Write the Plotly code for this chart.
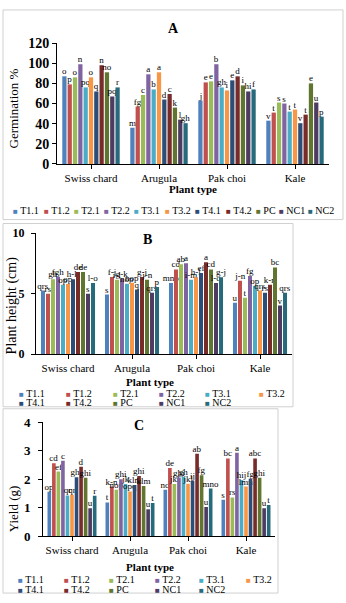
import plotly.graph_objects as go

# ---------------- data ----------------
categories = ["Swiss chard", "Arugula", "Pak choi", "Kale"]
series = ["T1.1", "T1.2", "T2.1", "T2.2", "T3.1", "T3.2", "T4.1", "T4.2", "PC", "NC1", "NC2"]
colors = ["#4F81BD", "#C0504D", "#9BBB59", "#8064A2", "#4BACC6", "#F79646",
          "#2C4D75", "#772C2A", "#5F7530", "#4D3B62", "#276A7C"]

# Panel A: germination % (per category, values in series order)
germ_swiss = [87, 79, 86, 99, 76, 86, 72, 98, 91, 67, 76]
germ_arugula = [36, 57, 68.5, 89, 74, 91, 64, 69.5, 56, 44, 40.5]
germ_pakchoi = [63, 81, 82, 99, 76, 73, 83, 87, 78, 72, 74]
germ_kale = [43, 51, 61, 60, 52, 54, 40.5, 49, 80, 61, 47]
germ_lab_swiss = ["o", "p", "o", "n", "pq", "o", "q", "n", "no", "pq", "r"]
germ_lab_arugula = ["m", "fg", "c", "a", "b", "a", "d", "c", "k", "l", "gh"]
germ_lab_pakchoi = ["j", "e", "e", "b", "gh", "i", "e", "d", "i", "hi", "f"]
germ_lab_kale = ["v", "t", "s", "s", "t", "t", "v", "t", "e", "u", "p"]

# Panel B: plant height (cm)
height_swiss = [5.26, 5.0, 6.2, 6.4, 5.74, 5.8, 6.2, 6.8, 6.8, 5.0, 5.88]
height_arugula = [4.93, 6.39, 6.15, 6.23, 5.82, 5.9, 5.34, 6.39, 6.15, 5.07, 5.55]
height_pakchoi = [5.88, 7.0, 7.44, 7.52, 6.15, 6.36, 6.71, 7.6, 7.0, 5.88, 6.36]
height_kale = [4.26, 6.06, 4.66, 6.47, 5.66, 5.26, 5.07, 5.74, 7.17, 4.02, 5.07]
height_lab_swiss = ["qrs", "rs", "gh", "fgh", "op", "op", "h-k", "de", "de", "s", "l-o"]
height_lab_arugula = ["s", "f-j", "i-l", "g-k", "nop", "nop", "q", "g-j", "j-n", "qrs", "p"]
height_lab_pakchoi = ["mno", "cd", "ab", "a", "i-m", "h-l", "ef", "a", "cd", "l-o", "g-j"]
height_lab_kale = ["u", "j-n", "t", "fg", "op", "qrs", "rs", "k-n", "bc", "v", "qrs"]

# Panel C: yield (g)
yield_swiss = [1.56, 2.56, 2.27, 2.65, 1.43, 1.45, 2.07, 2.44, 2.05, 0.98, 1.42]
yield_arugula = [1.18, 1.74, 1.63, 2.0, 1.83, 1.57, 1.8, 2.11, 1.76, 0.94, 1.16]
yield_pakchoi = [1.63, 2.39, 1.83, 2.06, 2.09, 1.84, 1.94, 2.9, 2.14, 1.02, 1.67]
yield_kale = [1.28, 2.73, 1.36, 2.93, 1.97, 1.74, 2.02, 2.73, 2.05, 0.98, 1.09]
yield_lab_swiss = ["op", "cd", "ef", "c", "qr", "qr", "ghi", "d", "ghi", "u", "r"]
yield_lab_arugula = ["t", "k-n", "nop", "ghi", "jk", "opq", "klm", "ghi", "klm", "u", "t"]
yield_lab_pakchoi = ["no", "de", "jkl", "ghi", "gh", "jkl", "ij", "ab", "fg", "u", "mno"]
yield_lab_kale = ["s", "bc", "rs", "a", "hij", "lmn", "fg", "abc", "ghi", "u", "t"]

# ---------------- layout helpers ----------------
W, H = 346, 603
SERIF = "Liberation Serif, Times New Roman, serif"


def fx(x):
    return x / W


def fy(y):
    return 1 - y / H


panels = [
    dict(vals=[germ_swiss, germ_arugula, germ_pakchoi, germ_kale],
         labs=[germ_lab_swiss, germ_lab_arugula, germ_lab_pakchoi, germ_lab_kale],
         xd=(57, 329), yd=(161, 37), yr=[0, 120], dt=20, tsize=14, stand=0,
         title="A", tpos=(173, 22), ytitle="Germination %", ytpos=(13, 104), ytsize=13,
         xtpos=(193, 187), box=(3, 3, 343, 218)),
    dict(vals=[height_swiss, height_arugula, height_pakchoi, height_kale],
         labs=[height_lab_swiss, height_lab_arugula, height_lab_pakchoi, height_lab_kale],
         xd=(36, 292), yd=(356, 232), yr=[0, 10], dt=5, tsize=12, stand=4,
         title="B", tpos=(147, 238), ytitle="Plant height (cm)", ytpos=(12, 306), ytsize=14,
         xtpos=(150, 385), box=(3, 222, 293, 410)),
    dict(vals=[yield_swiss, yield_arugula, yield_pakchoi, yield_kale],
         labs=[yield_lab_swiss, yield_lab_arugula, yield_lab_pakchoi, yield_lab_kale],
         xd=(43, 275), yd=(542.5, 426), yr=[0, 4], dt=1, tsize=13, stand=5,
         title="C", tpos=(139, 429), ytitle="Yield (g)", ytpos=(13, 515), ytsize=13,
         xtpos=(150, 574), box=(3, 412, 278, 601)),
]

fig = go.Figure()
annotations = []
shapes = []
layout_axes = {}

for p_i, p in enumerate(panels):
    sfx = "" if p_i == 0 else str(p_i + 1)
    xa, ya = "x" + sfx, "y" + sfx
    for s_i, name in enumerate(series):
        yvals = [p["vals"][c][s_i] for c in range(len(categories))]
        labs = [p["labs"][c][s_i] for c in range(len(categories))]
        fig.add_trace(go.Bar(
            x=categories, y=yvals, name=name, marker_color=colors[s_i],
            marker_line_width=0, text=labs, textposition="outside",
            textangle=0, constraintext="none", cliponaxis=False,
            textfont=dict(family=SERIF, size=9, color="black"),
            xaxis=xa, yaxis=ya, showlegend=False, hoverinfo="skip"))

    layout_axes["xaxis" + sfx] = dict(
        domain=[fx(p["xd"][0]), fx(p["xd"][1])], anchor=ya, type="category",
        range=[-0.5, 3.5], showline=True, linecolor="black", linewidth=1,
        ticks="outside", ticklen=4, tickcolor="black", showgrid=False,
        tickfont=dict(family=SERIF, size=11, color="black"))
    layout_axes["yaxis" + sfx] = dict(
        domain=[fy(p["yd"][0]), fy(p["yd"][1])], anchor=xa, range=p["yr"],
        dtick=p["dt"], showline=True, linecolor="black", linewidth=1,
        ticks="outside", ticklen=4, tickcolor="black", showgrid=False,
        zeroline=False, ticklabelstandoff=p["stand"],
        tickfont=dict(family=SERIF, size=p["tsize"], color="black", weight="bold"))

    # chart border
    bx0, by0, bx1, by1 = p["box"]
    shapes.append(dict(type="rect", xref="paper", yref="paper",
                       x0=fx(bx0), x1=fx(bx1), y0=fy(by1), y1=fy(by0),
                       line=dict(color="#D0D0D0", width=1), layer="below"))
    # titles
    annotations.append(dict(text="<b>%s</b>" % p["title"], x=fx(p["tpos"][0]), y=fy(p["tpos"][1]),
                            xref="paper", yref="paper", showarrow=False,
                            xanchor="center", yanchor="middle",
                            font=dict(family=SERIF, size=14, color="black")))
    annotations.append(dict(text=p["ytitle"], x=fx(p["ytpos"][0]), y=fy(p["ytpos"][1]),
                            xref="paper", yref="paper", showarrow=False, textangle=-90,
                            xanchor="center", yanchor="middle",
                            font=dict(family=SERIF, size=p["ytsize"], color="black")))
    annotations.append(dict(text="<b>Plant type</b>", x=fx(p["xtpos"][0]), y=fy(p["xtpos"][1]),
                            xref="paper", yref="paper", showarrow=False,
                            xanchor="center", yanchor="middle",
                            font=dict(family=SERIF, size=11, color="black")))

# legends (drawn as text entries)
legend_A_x = [12, 43, 73, 103, 133, 164, 194, 225, 255, 278, 307]
legend_A_y = [209] * 11
legend_B_x = [18, 65, 112, 158, 204, 258, 18, 65, 112, 158, 204]
legend_B_y = [396] * 6 + [406] * 5
legend_C_x = [17, 63, 108, 154, 198, 245, 17, 63, 108, 154, 198]
legend_C_y = [587] * 6 + [597] * 5

for lx, ly in [(legend_A_x, legend_A_y), (legend_B_x, legend_B_y), (legend_C_x, legend_C_y)]:
    for s_i, name in enumerate(series):
        annotations.append(dict(
            text="<span style='color:%s;font-size:8px'>■</span> %s" % (colors[s_i], name),
            x=fx(lx[s_i] - 1), y=fy(ly[s_i]), xref="paper", yref="paper",
            xanchor="left", yanchor="middle", showarrow=False,
            font=dict(family=SERIF, size=10, color="black")))

fig.update_layout(
    width=W, height=H, margin=dict(l=0, r=0, t=0, b=0),
    paper_bgcolor="white", plot_bgcolor="white",
    barmode="group", bargap=0.14, bargroupgap=0.2,
    annotations=annotations, shapes=shapes, showlegend=False,
    **layout_axes)

fig.write_html("out.html")
